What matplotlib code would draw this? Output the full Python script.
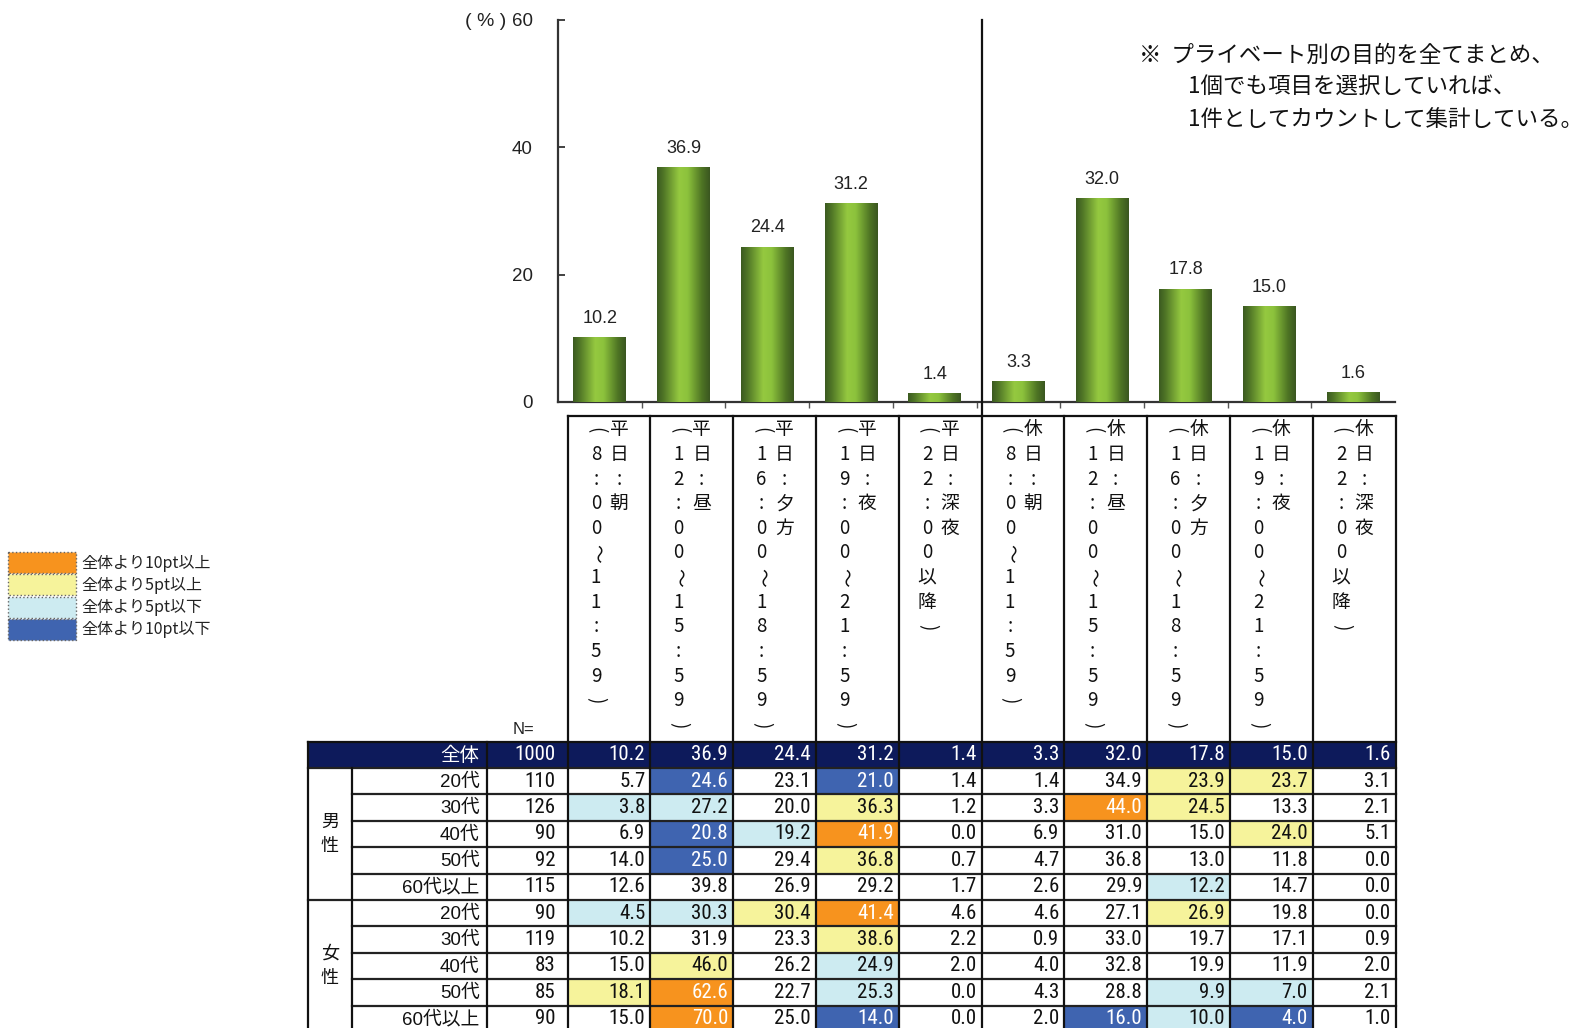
import os
import numpy as np
import matplotlib
matplotlib.use('Agg')
import matplotlib.pyplot as plt
from matplotlib import font_manager
from matplotlib.patches import Rectangle
from matplotlib.colors import LinearSegmentedColormap

# ---------------- data ----------------
cat_day = ['平日'] * 5 + ['休日'] * 5
cat_slot = ['朝', '昼', '夕方', '夜', '深夜'] * 2
cat_time = ['8:00～11:59', '12:00～15:59', '16:00～18:59', '19:00～21:59', '22:00以降'] * 2
overall = [10.2, 36.9, 24.4, 31.2, 1.4, 3.3, 32.0, 17.8, 15.0, 1.6]
n_total = 1000
yticks = [0, 20, 40, 60]

groups = ['男\n性', '女\n性']
ages = ['20代', '30代', '40代', '50代', '60代以上']
n_male = [110, 126, 90, 92, 115]
n_female = [90, 119, 83, 85, 90]
male_20 = [5.7, 24.6, 23.1, 21.0, 1.4, 1.4, 34.9, 23.9, 23.7, 3.1]
male_30 = [3.8, 27.2, 20.0, 36.3, 1.2, 3.3, 44.0, 24.5, 13.3, 2.1]
male_40 = [6.9, 20.8, 19.2, 41.9, 0.0, 6.9, 31.0, 15.0, 24.0, 5.1]
male_50 = [14.0, 25.0, 29.4, 36.8, 0.7, 4.7, 36.8, 13.0, 11.8, 0.0]
male_60 = [12.6, 39.8, 26.9, 29.2, 1.7, 2.6, 29.9, 12.2, 14.7, 0.0]
female_20 = [4.5, 30.3, 30.4, 41.4, 4.6, 4.6, 27.1, 26.9, 19.8, 0.0]
female_30 = [10.2, 31.9, 23.3, 38.6, 2.2, 0.9, 33.0, 19.7, 17.1, 0.9]
female_40 = [15.0, 46.0, 26.2, 24.9, 2.0, 4.0, 32.8, 19.9, 11.9, 2.0]
female_50 = [18.1, 62.6, 22.7, 25.3, 0.0, 4.3, 28.8, 9.9, 7.0, 2.1]
female_60 = [15.0, 70.0, 25.0, 14.0, 0.0, 2.0, 16.0, 10.0, 4.0, 1.0]

legend_labels = ['全体より10pt以上', '全体より5pt以上', '全体より5pt以下', '全体より10pt以下']
note_lines = ['※  プライベート別の目的を全てまとめ、', '1個でも項目を選択していれば、', '1件としてカウントして集計している。']

# ---------------- style ----------------
C_ORANGE = '#F7931E'
C_YELLOW = '#F6F39B'
C_LBLUE = '#CDEBF1'
C_BLUE = '#3F64B0'
C_NAVY = '#0D1A5B'
LEG_COLORS = [C_ORANGE, C_YELLOW, C_LBLUE, C_BLUE]

names = {f.name for f in font_manager.fontManager.ttflist}
SANS = 'Liberation Sans' if 'Liberation Sans' in names else 'DejaVu Sans'
CJK = 'Noto Sans CJK JP'

# look for a condensed / narrow sans font file for the table numbers
narrow_fp = None
prefs = ['LiberationSansNarrow-Regular', 'RobotoCondensed-Regular', 'OpenSans_Condensed-Regular',
         'OpenSansCondensed', 'DejaVuSansCondensed.ttf', 'NotoSans-Condensed', 'Condensed', 'Narrow']
files = [f.fname for f in font_manager.fontManager.ttflist]
for p in prefs:
    for fn in files:
        b = os.path.basename(fn)
        if p in b and not any(k in b for k in ['Bold', 'Oblique', 'Italic', 'Light', 'Thin', 'Medium', 'Black', 'Semi', 'Extra']):
            narrow_fp = fn
            break
    if narrow_fp:
        break
if narrow_fp:
    NUM_FP = font_manager.FontProperties(fname=narrow_fp)
    NUM_SCALE = 1.0
else:
    NUM_FP = font_manager.FontProperties(family=SANS)
    NUM_SCALE = 0.88

plt.rcParams['font.family'] = [SANS, CJK]

W, H = 1586, 1028
fig = plt.figure(figsize=(W / 100, H / 100), dpi=100)

# ---------------- bar chart ----------------
AX_L, AX_R, AX_T, AX_B = 558, 1395, 20, 402
ax = fig.add_axes([AX_L / W, 1 - AX_B / H, (AX_R - AX_L) / W, (AX_B - AX_T) / H])
x = np.arange(len(overall))
bars = ax.bar(x, overall, width=0.63, color='#6E9E2F', zorder=2)
cmap = LinearSegmentedColormap.from_list('cyl', [
    (0.0, '#3B5A20'), (0.12, '#4F7526'), (0.42, '#95C940'),
    (0.58, '#8CC23C'), (0.85, '#4E7424'), (1.0, '#3A5620')])
grad = np.linspace(0, 1, 256).reshape(1, -1)
for b in bars:
    im = ax.imshow(grad, extent=[b.get_x(), b.get_x() + b.get_width(), 0, b.get_height()],
                   aspect='auto', cmap=cmap, zorder=3, interpolation='bilinear')
    im.set_clip_path(b)
for xi, v in zip(x, overall):
    ax.annotate(f'{v:.1f}', (xi, v), xytext=(0, 13.5), textcoords='offset points',
                ha='center', va='center', fontsize=13, color='#222222', family=SANS)
ax.set_xlim(-0.5, len(overall) - 0.5)
ax.set_ylim(0, 60)
ax.set_yticks(yticks)
ax.set_yticklabels([str(t) for t in yticks], fontsize=13.5, color='#222222', family=SANS)
ax.set_xticks(np.arange(0.5, len(overall) - 1, 1))
ax.set_xticklabels([])
ax.tick_params(axis='y', direction='in', length=5, width=1.3, pad=18, color='#333333')
ax.tick_params(axis='x', direction='out', length=4, width=1.0, color='#555555')
for s in ['top', 'right']:
    ax.spines[s].set_visible(False)
for s in ['left', 'bottom']:
    ax.spines[s].set_linewidth(1.6)
    ax.spines[s].set_color('#333333')
ax.set_facecolor('none')
fig.text(506 / W, 1 - 21 / H, '( % )', ha='right', va='center', fontsize=14, color='#222222',
         family=[SANS])

# ---------------- overlay (table, legend, notes) ----------------
ov = fig.add_axes([0, 0, 1, 1])
ov.set_xlim(0, W)
ov.set_ylim(H, 0)
ov.axis('off')

X_LEFT, X_GRP, X_LBL, X_N, COLW = 307.5, 352.0, 486.5, 567.5, 82.8
NCOL = len(overall)
X_END = X_N + NCOL * COLW
BOX_TOP, HDR_TOP, ROW_H = 416.0, 741.5, 26.4
Y_BOT = H + 20
LW = 1.6

# divider between weekday and holiday
ov.plot([X_N + 5 * COLW] * 2, [AX_T, BOX_TOP], color='#111111', lw=LW, zorder=5)

# vertical category labels
VSTEP = 24.6
VY0 = 430.0


def vchars(xc, chars):
    for i, c in enumerate(chars):
        rot = 0
        if c in '(（':
            c, rot = '(', -90
        elif c in ')）':
            c, rot = ')', -90
        elif c == '～':
            rot = -90
        ov.text(xc, VY0 + i * VSTEP, c, ha='center', va='center', rotation=rot,
                fontsize=13.5, family=[CJK], color='#111111')


for j in range(NCOL):
    xc = X_N + (j + 0.5) * COLW
    vchars(xc + 10, list(cat_day[j] + ':' + cat_slot[j]))
    vchars(xc - 13, ['('] + list(cat_time[j]) + [')'])

ov.text(X_LBL + 37, 730, 'N=', ha='center', va='center', fontsize=12, family=[SANS], color='#222222')

# table rows
rows = [male_20, male_30, male_40, male_50, male_60,
        female_20, female_30, female_40, female_50, female_60]
row_n = n_male + n_female
row_age = ages + ages


def cell_color(v, base):
    d = round(v - base, 1)
    if d > 10:
        return C_ORANGE, 'white'
    if d > 5:
        return C_YELLOW, '#111111'
    if d < -10:
        return C_BLUE, 'white'
    if d < -5:
        return C_LBLUE, '#111111'
    return 'white', '#111111'


TFS = 15 * NUM_SCALE


def num(xr, yc, s, color):
    t = ov.text(xr, yc, s, ha='right', va='center', color=color, zorder=4,
                fontproperties=NUM_FP)
    t.set_fontsize(TFS)
    return t


# header row
ov.add_patch(Rectangle((X_LEFT, HDR_TOP), X_END - X_LEFT, ROW_H, facecolor=C_NAVY,
                       edgecolor='none', zorder=1))
yc = HDR_TOP + ROW_H / 2
ov.text(X_LBL - 7, yc + 1, '全体', ha='right', va='center', fontsize=14, color='white',
        family=[CJK], zorder=4)
num(X_N - 12, yc, str(n_total), 'white')
for j, v in enumerate(overall):
    num(X_N + (j + 1) * COLW - 5, yc, f'{v:.1f}', 'white')

for r, vals in enumerate(rows):
    y0 = HDR_TOP + ROW_H * (r + 1)
    yc = y0 + ROW_H / 2
    ov.text(X_LBL - 7, yc + 1, row_age[r], ha='right', va='center', fontsize=13.5,
            color='#111111', family=[SANS, CJK], zorder=4)
    num(X_N - 12, yc, str(row_n[r]), '#111111')
    for j, v in enumerate(vals):
        fc, tc = cell_color(v, overall[j])
        ov.add_patch(Rectangle((X_N + j * COLW, y0), COLW, ROW_H, facecolor=fc,
                               edgecolor='none', zorder=1))
        num(X_N + (j + 1) * COLW - 5, yc, f'{v:.1f}', tc)

# group labels
for g, lab in enumerate(groups):
    yc = HDR_TOP + ROW_H * (1 + 5 * g + 2.5)
    for k, ch in enumerate(lab.split('\n')):
        ov.text((X_LEFT + X_GRP) / 2, yc + (k - 0.5) * 24, ch, ha='center', va='center',
                fontsize=13, family=[CJK], color='#111111', zorder=4)

# grid lines
ov.plot([X_N, X_END], [BOX_TOP, BOX_TOP], color='#111111', lw=LW, zorder=3)
ov.plot([X_LEFT, X_END], [HDR_TOP, HDR_TOP], color='#111111', lw=LW, zorder=3)
for k in range(1, len(rows) + 1):
    yk = HDR_TOP + ROW_H * k
    x0 = X_LEFT if k in (1, 6) else X_GRP
    ov.plot([x0, X_END], [yk, yk], color='#222222', lw=LW, zorder=3)
ov.plot([X_LEFT, X_LEFT], [HDR_TOP, Y_BOT], color='#111111', lw=LW, zorder=3)
ov.plot([X_GRP, X_GRP], [HDR_TOP + ROW_H, Y_BOT], color='#111111', lw=LW, zorder=3)
ov.plot([X_LBL, X_LBL], [HDR_TOP, Y_BOT], color='#111111', lw=LW, zorder=3)
for j in range(NCOL + 1):
    xj = X_N + j * COLW
    ov.plot([xj, xj], [BOX_TOP, Y_BOT], color='#111111', lw=LW, zorder=3)

# legend
for i, (lab, col) in enumerate(zip(legend_labels, LEG_COLORS)):
    y0 = 552 + i * 22.3
    ov.add_patch(Rectangle((8, y0), 68, 21, facecolor=col, edgecolor='#666666',
                           lw=1.0, linestyle=':', zorder=2))
    ov.text(81, y0 + 11, lab, ha='left', va='center', fontsize=11.5,
            family=[CJK], color='#222222')

# notes
NFS = 16.2
ov.text(1139, 55, note_lines[0], ha='left', va='center', fontsize=NFS, family=[CJK], color='#111111')
ov.text(1188, 87, note_lines[1], ha='left', va='center', fontsize=NFS, family=[CJK], color='#111111')
ov.text(1188, 119, note_lines[2], ha='left', va='center', fontsize=NFS, family=[CJK], color='#111111')

fig.savefig('out.png', dpi=100)
